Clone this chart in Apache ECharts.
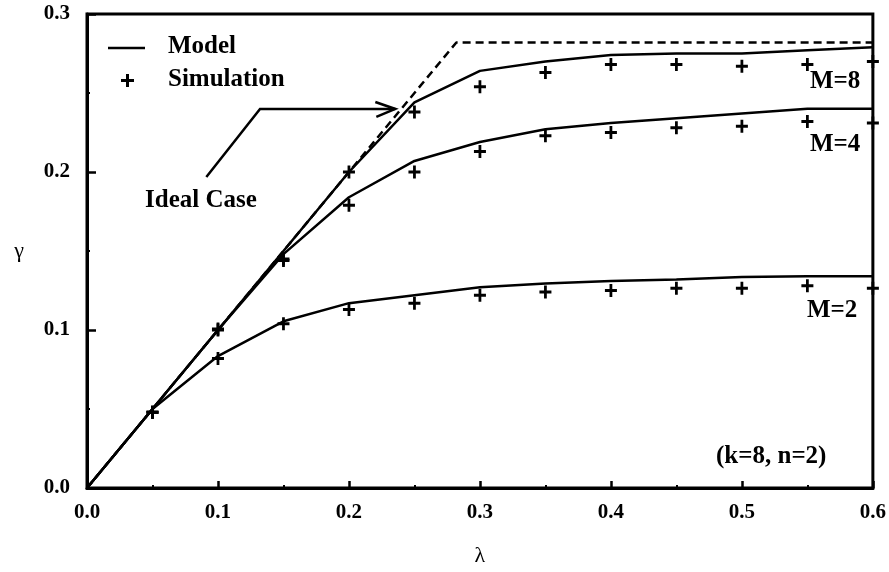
<!DOCTYPE html>
<html>
<head>
<meta charset="utf-8">
<script src="https://cdn.jsdelivr.net/npm/echarts@6/dist/echarts.min.js"></script>
<style>
html,body{margin:0;padding:0;background:#fff;}
#c{width:889px;height:572px;}
</style>
</head>
<body>
<div id="c"></div>
<script>
// ---- data ----
const lambda = [0, 0.05, 0.1, 0.15, 0.2, 0.25, 0.3, 0.35, 0.4, 0.45, 0.5, 0.55, 0.6];
const modelM8 = [0, 0.05, 0.1, 0.15, 0.2, 0.244, 0.264, 0.270, 0.274, 0.275, 0.275, 0.277, 0.279];
const modelM4 = [0, 0.05, 0.1, 0.148, 0.184, 0.207, 0.219, 0.227, 0.231, 0.234, 0.237, 0.240, 0.240];
const modelM2 = [0, 0.05, 0.0835, 0.1055, 0.117, 0.122, 0.127, 0.1295, 0.131, 0.132, 0.1335, 0.134, 0.134];
const simLambda = [0.05, 0.1, 0.15, 0.2, 0.25, 0.3, 0.35, 0.4, 0.45, 0.5, 0.55, 0.6];
const simM8 = [0.048, 0.1006, 0.145, 0.200, 0.238, 0.254, 0.263, 0.268, 0.268, 0.267, 0.268, 0.270];
const simM4 = [0.048, 0.100, 0.144, 0.179, 0.200, 0.213, 0.223, 0.225, 0.228, 0.229, 0.232, 0.231];
const simM2 = [0.048, 0.082, 0.104, 0.113, 0.117, 0.122, 0.124, 0.125, 0.1265, 0.1265, 0.128, 0.1265];
const idealX = [0, 0.282, 0.6];
const idealY = [0, 0.282, 0.282];
const arrowPath = [[0.0911, 0.1968], [0.1321, 0.2399], [0.2354, 0.2399]];
const xTicks = ['0.0', '0.1', '0.2', '0.3', '0.4', '0.5', '0.6'];
const yTicks = ['0.0', '0.1', '0.2', '0.3'];

const pair = (xs, ys) => xs.map((x, i) => [x, ys[i]]);
const FONT = 'Liberation Serif';
const plus = 'path://M5,0H8V5H13V8H8V13H5V8H0V5H5Z';

const chart = echarts.init(document.getElementById('c'), null, {renderer: 'canvas'});

function modelSeries(name, ys) {
  return {
    name: name, type: 'line', data: pair(lambda, ys), symbol: 'none',
    lineStyle: {color: '#000', width: 2.5}, silent: true, animation: false, z: 3
  };
}
function simSeries(name, ys) {
  return {
    name: name, type: 'scatter', data: pair(simLambda, ys), symbol: plus,
    symbolSize: [12, 13], itemStyle: {color: '#000', opacity: 1}, silent: true, animation: false, z: 4
  };
}

const option = {
  animation: false,
  backgroundColor: '#fff',
  grid: {left: 87, right: 12, top: 14, bottom: 84, show: true, borderColor: '#000', borderWidth: 3, backgroundColor: 'transparent'},
  xAxis: {
    type: 'value', min: 0, max: 0.6, interval: 0.1,
    name: 'λ', nameLocation: 'middle', nameGap: 57,
    nameTextStyle: {fontFamily: FONT, fontSize: 22, color: '#000'},
    axisLine: {lineStyle: {color: '#000', width: 3}},
    axisTick: {inside: true, length: 7, lineStyle: {color: '#000', width: 2.5}},
    minorTick: {show: true, splitNumber: 2, length: 3, lineStyle: {color: '#000', width: 2}},
    splitLine: {show: false},
    axisLabel: {margin: 14, fontFamily: FONT, fontWeight: 'bold', fontSize: 21, color: '#000',
      formatter: (v) => xTicks[Math.round(v * 10)]}
  },
  yAxis: {
    type: 'value', min: 0, max: 0.3, interval: 0.1,
    name: 'γ', nameLocation: 'middle', nameGap: 63, nameRotate: 0,
    nameTextStyle: {fontFamily: FONT, fontSize: 22, color: '#000'},
    axisLine: {lineStyle: {color: '#000', width: 3}},
    axisTick: {inside: true, length: 9, lineStyle: {color: '#000', width: 2.5}},
    minorTick: {show: true, splitNumber: 2, length: 3, lineStyle: {color: '#000', width: 2}},
    splitLine: {show: false},
    axisLabel: {margin: 17, fontFamily: FONT, fontWeight: 'bold', fontSize: 21, color: '#000',
      formatter: (v) => yTicks[Math.round(v * 10)]}
  },
  series: [
    {name: 'Ideal Case', type: 'line', data: pair(idealX, idealY), symbol: 'none',
      lineStyle: {color: '#000', width: 2.5, type: [8, 5]}, silent: true, z: 2},
    modelSeries('Model M=8', modelM8),
    modelSeries('Model M=4', modelM4),
    modelSeries('Model M=2', modelM2),
    simSeries('Simulation M=8', simM8),
    simSeries('Simulation M=4', simM4),
    simSeries('Simulation M=2', simM2)
  ]
};
chart.setOption(option);

// annotations
const pts = arrowPath.map(p => chart.convertToPixel({gridIndex: 0}, p));
const tip = pts[pts.length - 1];
const txt = (s, x, y) => ({type: 'text', x: x, y: y, style: {text: s, fill: '#000',
  font: 'bold 25px "' + FONT + '"', textAlign: 'left', textVerticalAlign: 'middle'}, z: 10});

chart.setOption({
  graphic: [
    // legend
    {type: 'line', shape: {x1: 108, y1: 48, x2: 145, y2: 48}, style: {stroke: '#000', lineWidth: 2.5}, z: 10},
    {type: 'rect', shape: {x: 121, y: 79, width: 13, height: 3}, style: {fill: '#000'}, z: 10},
    {type: 'rect', shape: {x: 126, y: 74, width: 3, height: 13}, style: {fill: '#000'}, z: 10},
    txt('Model', 168, 47),
    txt('Simulation', 168, 80),
    txt('Ideal Case', 145, 201),
    txt('M=8', 810, 82),
    txt('M=4', 810, 145),
    txt('M=2', 807, 311),
    txt('(k=8, n=2)', 716, 457),
    // arrow
    {type: 'polyline', shape: {points: pts}, style: {stroke: '#000', lineWidth: 2.5, fill: null}, z: 10},
    {type: 'polyline', shape: {points: [[tip[0] - 20, tip[1] - 7], [tip[0], tip[1]], [tip[0] - 19, tip[1] + 8]]},
      style: {stroke: '#000', lineWidth: 2.5, fill: null}, z: 10}
  ]
});
</script>
</body>
</html>
